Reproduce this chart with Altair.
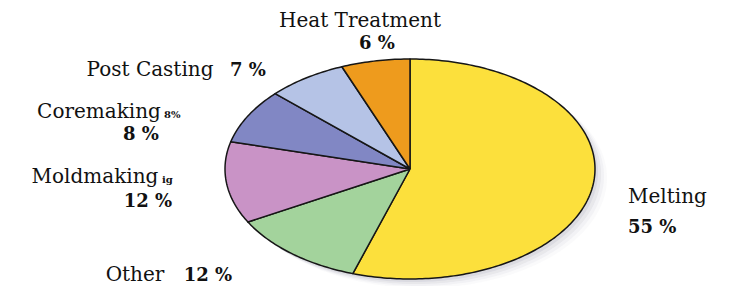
import altair as alt
import pandas as pd
import numpy as np

# ---- data ----
categories = ["Melting", "Other", "Moldmaking", "Coremaking", "Post Casting", "Heat Treatment"]
values = [55, 12, 12, 8, 7, 6]
colors = ["#FCE03C", "#A3D39C", "#C993C6", "#8187C4", "#B5C3E6", "#EE9B1D"]

name_texts = ["Heat Treatment", "Post Casting", "Coremaking", "Moldmaking", "Other", "Melting"]
pct_texts = ["6 %", "7 %", "8 %", "12 %", "12 %", "55 %"]
small_texts = ["8%", "ig"]

# ---- layout ----
W, H = 716, 278
CX, CY, RX, RY = 402, 161, 185, 110   # pie centre / radii in chart pixels


def u(px):
    return (px - 8 - CX) / RX


def v(py):
    return (CY - (py - 8)) / RY


# ---- pie polygons built from the values ----
total = float(sum(values))
rows = []
outline = []
cum = 0.0
for c, val in zip(categories, values):
    a0 = cum / total * 2 * np.pi
    cum += val
    a1 = cum / total * 2 * np.pi
    n = int(val / total * 360) + 3
    rows.append(dict(cat=c, k=0, u=0.0, v=0.0))
    for j, a in enumerate(np.linspace(a0, a1, n)):
        rows.append(dict(cat=c, k=j + 1, u=float(np.sin(a)), v=float(np.cos(a))))
        outline.append(dict(k=len(outline), u=float(np.sin(a)), v=float(np.cos(a))))
    rows.append(dict(cat=c, k=n + 1, u=0.0, v=0.0))
poly = pd.DataFrame(rows)
shadow_df = pd.DataFrame(outline)

xs = alt.Scale(domain=[-CX / RX, (W - CX) / RX], nice=False, zero=False)
ys = alt.Scale(domain=[-(H - CY) / RY, CY / RY], nice=False, zero=False)

X = alt.X("u:Q", scale=xs, axis=None)
Y = alt.Y("v:Q", scale=ys, axis=None)

shadows = []
for dx, dy, op in [(3, 3, 0.16), (6, 5, 0.12), (9, 7, 0.08), (12, 9, 0.05)]:
    shadows.append(
        alt.Chart(shadow_df).mark_line(
            filled=True, color="#9a9aae", opacity=op, strokeWidth=0,
            xOffset=dx, yOffset=dy
        ).encode(x=X, y=Y, order="k:Q")
    )

pie = alt.Chart(poly).mark_line(
    filled=True, stroke="#161616", strokeWidth=1.5, strokeJoin="round"
).encode(
    x=X, y=Y,
    color=alt.Color("cat:N", scale=alt.Scale(domain=categories, range=colors), legend=None),
    detail="cat:N",
    order="k:Q",
)

# ---- labels ----
names_c = pd.DataFrame(dict(
    t=name_texts[:5],
    u=[u(360), u(150), u(99), u(95), u(135)],
    v=[v(27), v(76), v(118), v(183), v(281)],
))
names_l = pd.DataFrame(dict(t=[name_texts[5]], u=[u(628)], v=[v(203)]))
pct_c = pd.DataFrame(dict(
    t=pct_texts[:5],
    u=[u(377), u(248), u(141), u(148), u(208)],
    v=[v(49), v(76), v(140), v(207), v(281)],
))
pct_l = pd.DataFrame(dict(t=[pct_texts[5]], u=[u(628)], v=[v(233)]))
small = pd.DataFrame(dict(t=small_texts, u=[u(164), u(162)], v=[v(118), v(183)]))

SERIF = "DejaVu Serif"


def text_layer(df, size, weight, align):
    return alt.Chart(df).mark_text(
        font=SERIF, fontSize=size, fontWeight=weight, align=align,
        baseline="alphabetic", color="#111111"
    ).encode(x=X, y=Y, text="t:N")


layers = shadows + [
    pie,
    text_layer(names_c, 20, "normal", "center"),
    text_layer(names_l, 20, "normal", "left"),
    text_layer(pct_c, 18, "bold", "center"),
    text_layer(pct_l, 18, "bold", "left"),
    text_layer(small, 10, "bold", "left"),
]

chart = alt.layer(*layers).properties(
    width=W, height=H, padding=0, autosize=alt.AutoSizeParams(type="none")
).configure_view(stroke=None)

chart.save("out.html", embed_options={"renderer": "svg", "actions": False})
